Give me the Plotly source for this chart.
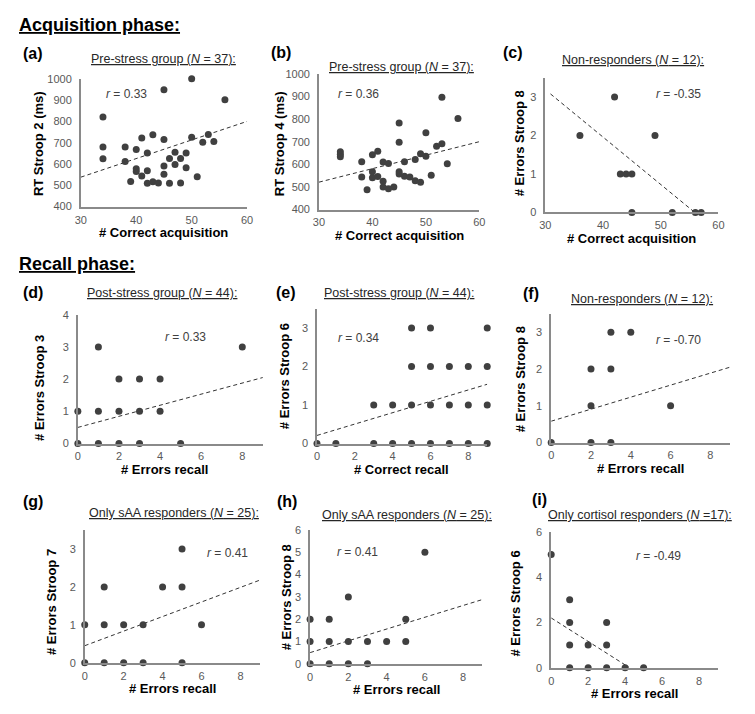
import plotly.graph_objects as go

W, H = 755, 714
FONT = "Arial, Liberation Sans, sans-serif"

# ---------------- data ----------------
a_x = [34, 34, 34, 38, 38, 39, 40, 40, 40, 41, 41, 42, 42, 42, 43, 43, 44, 45, 45, 45, 45,
       46, 46, 47, 47, 48, 48, 49, 49, 50, 50, 51, 52, 53, 54, 56]
a_y = [820, 680, 625, 680, 612, 518, 668, 577, 565, 722, 543, 651, 568, 509, 737, 517, 511,
       948, 715, 591, 552, 509, 626, 655, 597, 511, 626, 651, 582, 1000, 726, 540, 702, 738, 705, 902]
a_trend_x = [30, 60]
a_trend_y = [538, 800]

b_x = [34, 34, 34, 38, 38, 39, 40, 40, 40, 41, 41, 42, 42, 42, 43, 43, 44, 45, 45, 45, 45,
       46, 46, 47, 48, 48, 49, 49, 50, 50, 51, 52, 53, 53, 54, 56]
b_y = [655, 644, 633, 611, 544, 487, 642, 567, 541, 658, 546, 610, 525, 500, 604, 492, 500,
       783, 698, 567, 557, 611, 547, 544, 621, 527, 647, 521, 739, 636, 551, 680, 896, 691, 602, 803]
b_trend_x = [30, 60]
b_trend_y = [521, 700]

c_x = [36, 42, 43, 44, 45, 45, 49, 52, 56, 57]
c_y = [2, 3, 1, 1, 1, 0, 2, 0, 0, 0]
c_trend_x = [30.9, 55.9]
c_trend_y = [3.08, 0]

d_x = [0, 0, 1, 1, 1, 2, 2, 2, 3, 3, 3, 4, 4, 5, 8]
d_y = [1, 0, 3, 1, 0, 2, 1, 0, 2, 1, 0, 2, 1, 0, 3]
d_trend_x = [0, 9]
d_trend_y = [0.5, 2.05]

e_x = [0, 1, 3, 3, 4, 4, 5, 5, 5, 5, 6, 6, 6, 6, 7, 7, 7, 8, 8, 8, 9, 9, 9, 9]
e_y = [0, 0, 0, 1, 0, 1, 0, 1, 2, 3, 0, 1, 2, 3, 0, 1, 2, 0, 1, 2, 0, 1, 2, 3]
e_trend_x = [0, 9]
e_trend_y = [0.21, 1.54]

f_x = [0, 2, 2, 2, 3, 3, 3, 4, 6]
f_y = [0, 0, 1, 2, 0, 2, 3, 3, 1]
f_trend_x = [0, 9]
f_trend_y = [0.58, 2.05]

g_x = [0, 0, 1, 1, 1, 2, 2, 3, 3, 4, 5, 5, 5, 6]
g_y = [0, 1, 0, 1, 2, 0, 1, 0, 1, 2, 0, 2, 3, 1]
g_trend_x = [0, 9]
g_trend_y = [0.45, 2.18]

h_x = [0, 0, 0, 1, 1, 1, 2, 2, 2, 3, 3, 4, 5, 5, 6]
h_y = [0, 1, 2, 0, 1, 2, 0, 1, 3, 0, 1, 1, 1, 2, 5]
h_trend_x = [0, 9]
h_trend_y = [0.5, 2.88]

i_x = [0, 1, 1, 1, 1, 2, 2, 3, 3, 3, 4, 5]
i_y = [5, 0, 1, 2, 3, 0, 1, 0, 1, 2, 0, 0]
i_trend_x = [0, 4.2]
i_trend_y = [2.2, 0.02]

labels = ["(a)", "(b)", "(c)", "(d)", "(e)", "(f)", "(g)", "(h)", "(i)"]
subtitles = [
    "Pre-stress group (<i>N</i> = 37):",
    "Pre-stress group (<i>N</i> = 37):",
    "Non-responders (<i>N</i> = 12):",
    "Post-stress group (<i>N</i> = 44):",
    "Post-stress group (<i>N</i> = 44):",
    "Non-responders (<i>N</i> = 12):",
    "Only sAA responders (<i>N</i> = 25):",
    "Only sAA responders (<i>N</i> = 25):",
    "Only cortisol responders (<i>N</i> =17):",
]
r_texts = ["0.33", "0.36", "-0.35", "0.33", "0.34", "-0.70", "0.41", "0.41", "-0.49"]
x_titles = ["# Correct acquisition", "# Correct acquisition", "# Correct acquisition",
            "# Errors recall", "# Correct recall", "# Errors recall",
            "# Errors recall", "# Errors recall", "# Errors recall"]
y_titles = ["RT Stroop 2 (ms)", "RT Stroop 4 (ms)", "# Errors Stroop 8",
            "# Errors Stroop 3", "# Errors Stroop 6", "# Errors Stroop 8",
            "# Errors Stroop 7", "# Errors Stroop 8", "# Errors Stroop 6"]
acq_ticks = [30, 40, 50, 60]
rec_ticks = [0, 2, 4, 6, 8]
rt_ticks = [400, 500, 600, 700, 800, 900, 1000]

# ---------------- layout geometry (pixels) ----------------
panels = [
    dict(x=a_x, y=a_y, tx=a_trend_x, ty=a_trend_y, xr=[30, 60], yr=[400, 1000], xt=acq_ticks, yt=rt_ticks,
         box=(76, 245, 74, 204), lab=(15, 48), sub=(160, 54), r=(122, 89), xtp=(160, 230), ytp=(33, 140)),
    dict(x=b_x, y=b_y, tx=b_trend_x, ty=b_trend_y, xr=[30, 60], yr=[400, 1000], xt=acq_ticks, yt=rt_ticks,
         box=(318, 481, 69, 207), lab=(267, 47), sub=(402, 62), r=(358, 89), xtp=(400, 233), ytp=(278, 140)),
    dict(x=c_x, y=c_y, tx=c_trend_x, ty=c_trend_y, xr=[30, 60], yr=[0, 3.5], xt=acq_ticks, yt=[0, 1, 2, 3],
         box=(548, 724, 73, 210), lab=(503, 47), sub=(637, 55), r=(683, 90), xtp=(636, 236), ytp=(522, 140)),
    dict(x=d_x, y=d_y, tx=d_trend_x, ty=d_trend_y, xr=[0, 9], yr=[0, 4], xt=rec_ticks, yt=[0, 1, 2, 3, 4],
         box=(73, 261, 314, 445), lab=(15, 291), sub=(159, 292), r=(182, 337), xtp=(161, 471), ytp=(34, 388)),
    dict(x=e_x, y=e_y, tx=e_trend_x, ty=e_trend_y, xr=[0, 9], yr=[0, 3.5], xt=rec_ticks, yt=[0, 1, 2, 3],
         box=(316, 489, 308, 445), lab=(272, 291), sub=(399, 292), r=(358, 338), xtp=(402, 471), ytp=(283, 377)),
    dict(x=f_x, y=f_y, tx=f_trend_x, ty=f_trend_y, xr=[0, 9], yr=[0, 3.5], xt=rec_ticks, yt=[0, 1, 2, 3],
         box=(554, 736, 313, 444), lab=(523, 292), sub=(646, 298), r=(683, 340), xtp=(645, 470), ytp=(523, 380)),
    dict(x=g_x, y=g_y, tx=g_trend_x, ty=g_trend_y, xr=[0, 9], yr=[0, 3.5], xt=rec_ticks, yt=[0, 1, 2, 3],
         box=(80, 258, 533, 668), lab=(15, 504), sub=(171, 516), r=(225, 556), xtp=(169, 694), ytp=(47, 606)),
    dict(x=h_x, y=h_y, tx=h_trend_x, ty=h_trend_y, xr=[0, 9], yr=[0, 6], xt=rec_ticks, yt=[0, 1, 2, 3, 4, 5, 6],
         box=(309, 484, 533, 669), lab=(273, 504), sub=(407, 518), r=(357, 555), xtp=(397, 695), ytp=(285, 601)),
    dict(x=i_x, y=i_y, tx=i_trend_x, ty=i_trend_y, xr=[0, 9], yr=[0, 6], xt=rec_ticks, yt=[0, 2, 4, 6],
         box=(554, 723, 535, 673), lab=(532, 502), sub=(644, 518), r=(663, 559), xtp=(639, 699), ytp=(518, 608)),
]


def px(x):
    return x / W


def py(y):
    return 1 - y / H


fig = go.Figure()
annotations = []
layout_axes = {}

for k, p in enumerate(panels):
    n = "" if k == 0 else str(k + 1)
    xa, ya = "x" + n, "y" + n
    x0, x1, yt, yb = p["box"]
    layout_axes["xaxis" + n] = dict(
        domain=[px(x0), px(x1)], range=p["xr"], anchor=ya, tickvals=p["xt"],
        showline=True, linecolor="#8a8a8a", linewidth=1.5, showgrid=False, zeroline=False,
        ticks="", tickfont=dict(family=FONT, size=11, color="#595959"), ticklabelstandoff=2,
        fixedrange=True)
    layout_axes["yaxis" + n] = dict(
        domain=[py(yb), py(yt)], range=p["yr"], anchor=xa, tickvals=p["yt"],
        showline=True, linecolor="#8a8a8a", linewidth=1.5, showgrid=False, zeroline=False,
        ticks="", tickfont=dict(family=FONT, size=11, color="#595959"), ticklabelstandoff=5,
        fixedrange=True)
    fig.add_trace(go.Scatter(x=p["tx"], y=p["ty"], mode="lines", xaxis=xa, yaxis=ya,
                             line=dict(color="#333333", width=1, dash="4px,3px"),
                             showlegend=False, hoverinfo="skip"))
    fig.add_trace(go.Scatter(x=p["x"], y=p["y"], mode="markers", xaxis=xa, yaxis=ya,
                             marker=dict(color="#404040", size=7), cliponaxis=False,
                             showlegend=False))
    lx, ly = p["lab"]
    annotations.append(dict(text="<b>" + labels[k] + "</b>", x=px(lx), y=py(ly), xref="paper", yref="paper",
                            xanchor="left", yanchor="middle", showarrow=False,
                            font=dict(family=FONT, size=16, color="#000000")))
    sx, sy = p["sub"]
    annotations.append(dict(text="<u>" + subtitles[k] + "</u>", x=px(sx), y=py(sy), xref="paper", yref="paper",
                            xanchor="center", yanchor="middle", showarrow=False,
                            font=dict(family=FONT, size=12.5, color="#262626")))
    rx, ry = p["r"]
    annotations.append(dict(text="<i>r</i> = " + r_texts[k], x=px(rx), y=py(ry), xref="paper", yref="paper",
                            xanchor="center", yanchor="middle", showarrow=False,
                            font=dict(family=FONT, size=12, color="#404040")))
    tx, ty = p["xtp"]
    annotations.append(dict(text="<b>" + x_titles[k] + "</b>", x=px(tx), y=py(ty), xref="paper", yref="paper",
                            xanchor="center", yanchor="middle", showarrow=False,
                            font=dict(family=FONT, size=13, color="#000000")))
    vx, vy = p["ytp"]
    annotations.append(dict(text="<b>" + y_titles[k] + "</b>", x=px(vx), y=py(vy), xref="paper", yref="paper",
                            xanchor="center", yanchor="middle", showarrow=False, textangle=-90,
                            font=dict(family=FONT, size=13, color="#000000")))

for text, (hx, hy) in [("Acquisition phase:", (11, 19)), ("Recall phase:", (11, 262))]:
    annotations.append(dict(text="<b><u>" + text + "</u></b>", x=px(hx), y=py(hy), xref="paper", yref="paper",
                            xanchor="left", yanchor="middle", showarrow=False,
                            font=dict(family=FONT, size=18, color="#000000")))

fig.update_layout(
    width=W, height=H, margin=dict(l=0, r=0, t=0, b=0),
    paper_bgcolor="white", plot_bgcolor="white",
    annotations=annotations, showlegend=False,
    **layout_axes,
)

fig.write_html("out.html", config={"displayModeBar": False},
               post_script="document.body.style.margin='0px';")
